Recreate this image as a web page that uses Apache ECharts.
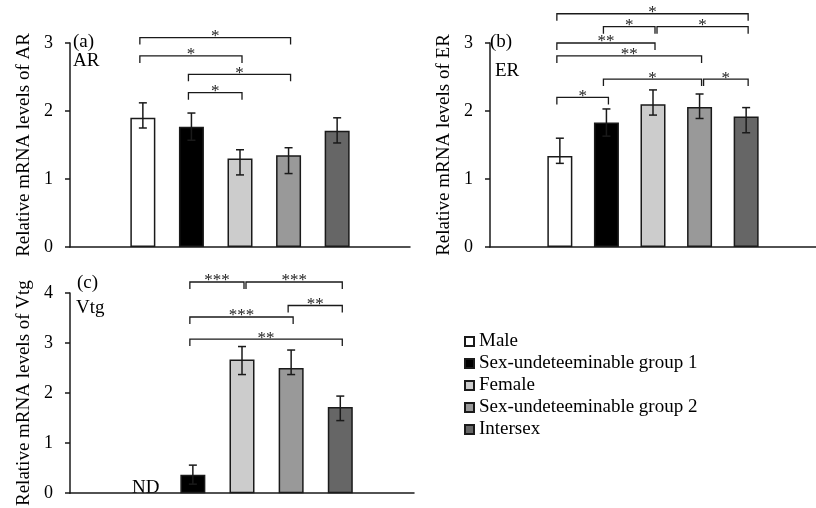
<!DOCTYPE html>
<html>
<head>
<meta charset="utf-8">
<style>html,body{margin:0;padding:0;background:#fff}#chart{width:816px;height:508px}</style>
<script src="https://cdn.jsdelivr.net/npm/echarts@6/dist/echarts.min.js"></script>
</head>
<body>
<div id="chart"></div>
<script>
// ---------- data ----------
var groups = ['Male', 'Sex-undeteeminable group 1', 'Female', 'Sex-undeteeminable group 2', 'Intersex'];
var categories = [' ', 'Male', 'Sex-undeteeminable group 1', 'Female', 'Sex-undeteeminable group 2', 'Intersex', '  '];
var colors = ['#ffffff', '#000000', '#cccccc', '#999999', '#666666'];

var arMean = [1.90, 1.77, 1.30, 1.35, 1.71];
var arHigh = [2.12, 1.97, 1.43, 1.46, 1.90];
var arLow  = [1.75, 1.57, 1.06, 1.08, 1.53];

var erMean = [1.34, 1.83, 2.10, 2.06, 1.92];
var erHigh = [1.60, 2.03, 2.31, 2.25, 2.05];
var erLow  = [1.23, 1.63, 1.94, 1.89, 1.68];

var vtgMean = [null, 0.37, 2.67, 2.50, 1.72];
var vtgHigh = [null, 0.56, 2.93, 2.86, 1.94];
var vtgLow  = [null, 0.18, 2.37, 2.37, 1.45];

// brackets: [fromGroup, toGroup, yValue, label]
var arBrackets = [[0, 3, 3.08, '*'], [0, 2, 2.81, '*'], [1, 3, 2.54, '*'], [1, 2, 2.27, '*']];
var erBrackets = [[0, 4, 3.43, '*'], [1, 2, 3.24, '*'], [2, 4, 3.24, '*'], [0, 2, 3.00, '**'],
                  [0, 3, 2.81, '**'], [1, 3, 2.47, '*'], [3, 4, 2.47, '*'], [0, 1, 2.20, '*']];
var vtgBrackets = [[1, 2, 4.22, '***'], [2, 4, 4.22, '***'], [3, 4, 3.75, '**'],
                   [1, 3, 3.52, '***'], [1, 4, 3.08, '**']];

var yTitles = ['Relative mRNA levels of AR', 'Relative mRNA levels of ER', 'Relative mRNA levels of Vtg'];
var yMax = [3, 3, 4];

// ---------- chart ----------
var FONT = 'Liberation Serif';
var chart = echarts.init(document.getElementById('chart'));

var grids = [
  {left: 70, top: 43, width: 340, height: 204},
  {left: 490, top: 43, width: 333, height: 204},
  {left: 70, top: 293, width: 344, height: 204}
];

var xAxes = [], yAxes = [], series = [];
var means = [arMean, erMean, vtgMean], highs = [arHigh, erHigh, vtgHigh], lows = [arLow, erLow, vtgLow];
var brackets = [arBrackets, erBrackets, vtgBrackets];

for (var p = 0; p < 3; p++) {
  xAxes.push({
    type: 'category', gridIndex: p, data: categories, boundaryGap: true,
    axisLine: {lineStyle: {color: '#1a1a1a', width: 1.5}},
    axisTick: {show: false}, axisLabel: {show: false}, splitLine: {show: false}
  });
  yAxes.push({
    type: 'value', gridIndex: p, min: 0, max: yMax[p], interval: 1,
    name: yTitles[p], nameLocation: 'middle', nameGap: 36, nameRotate: 90,
    nameTextStyle: {fontFamily: FONT, fontSize: 19, color: '#000'},
    axisLine: {show: true, lineStyle: {color: '#1a1a1a', width: 1.5}},
    axisTick: {show: true, inside: false, length: 5, lineStyle: {color: '#1a1a1a', width: 1.5}},
    axisLabel: {fontFamily: FONT, fontSize: 18, color: '#000', margin: 17},
    splitLine: {show: false}
  });
  for (var g = 0; g < 5; g++) {
    var d = categories.map(function () { return '-'; });
    if (means[p][g] != null) d[g + 1] = means[p][g];
    series.push({
      type: 'bar', name: groups[g], xAxisIndex: p, yAxisIndex: p,
      data: d, barWidth: 25, barGap: '-100%',
      itemStyle: {color: colors[g], borderColor: '#1a1a1a', borderWidth: 1.5},
      emphasis: {disabled: true}, z: 2
    });
  }
  (function (p) {
    // error bars
    var eb = [];
    for (var g = 0; g < 5; g++) {
      if (means[p][g] != null) eb.push([g + 1, lows[p][g], highs[p][g]]);
    }
    series.push({
      type: 'custom', xAxisIndex: p, yAxisIndex: p, data: eb, z: 5,
      encode: {x: 0, y: [1, 2]},
      renderItem: function (params, api) {
        var x = api.value(0);
        var top = api.coord([x, api.value(2)]);
        var bot = api.coord([x, api.value(1)]);
        var st = {stroke: '#1a1a1a', lineWidth: 1.5};
        return {type: 'group', children: [
          {type: 'line', shape: {x1: top[0], y1: top[1], x2: bot[0], y2: bot[1]}, style: st},
          {type: 'line', shape: {x1: top[0] - 4, y1: top[1], x2: top[0] + 4, y2: top[1]}, style: st},
          {type: 'line', shape: {x1: bot[0] - 4, y1: bot[1], x2: bot[0] + 4, y2: bot[1]}, style: st}
        ]};
      }
    });
    // significance brackets
    var br = brackets[p];
    series.push({
      type: 'custom', xAxisIndex: p, yAxisIndex: p, clip: false, z: 6,
      data: br.map(function (b) { return [b[0] + 1, b[1] + 1, b[2]]; }),
      encode: {x: [0, 1], y: 2},
      renderItem: function (params, api) {
        var b = br[params.dataIndex];
        var a = api.coord([b[0] + 1, b[2]]);
        var c = api.coord([b[1] + 1, b[2]]);
        var shared = br.some(function (o) { return o !== b && o[2] === b[2] && o[1] === b[0]; });
        var x1 = shared ? a[0] + 4 : a[0] - 3, x2 = c[0] + 2, y = a[1];
        var drop = 7;
        return {type: 'group', children: [
          {type: 'polyline', shape: {points: [[x1, y + drop], [x1, y], [x2, y], [x2, y + drop]]},
           style: {stroke: '#1a1a1a', lineWidth: 1.3, fill: null}},
          {type: 'text', x: (x1 + x2) / 2, y: y - 1,
           style: {text: b[3], fontFamily: FONT, fontSize: 17, fill: '#222',
                   textAlign: 'center', textVerticalAlign: 'middle'}}
        ]};
      }
    });
  })(p);
}

var TF = '19px "Liberation Serif"';
var graphic = [
  {type: 'text', left: 73, top: 33, style: {text: '(a)', font: TF, fill: '#000'}},
  {type: 'text', left: 73, top: 52, style: {text: 'AR', font: TF, fill: '#000'}},
  {type: 'text', left: 490, top: 33, style: {text: '(b)', font: TF, fill: '#000'}},
  {type: 'text', left: 495, top: 62, style: {text: 'ER', font: TF, fill: '#000'}},
  {type: 'text', left: 77, top: 274, style: {text: '(c)', font: TF, fill: '#000'}},
  {type: 'text', left: 76, top: 299, style: {text: 'Vtg', font: TF, fill: '#000'}},
  {type: 'text', left: 132, top: 479, style: {text: 'ND', font: TF, fill: '#000'}}
];

chart.setOption({
  animation: false,
  backgroundColor: '#fff',
  grid: grids,
  xAxis: xAxes,
  yAxis: yAxes,
  legend: {
    data: groups, orient: 'vertical', left: 459, top: 327,
    icon: 'rect', itemWidth: 9, itemHeight: 9, itemGap: 3,
    selectedMode: false,
    textStyle: {fontFamily: FONT, fontSize: 19, color: '#000', lineHeight: 19}
  },
  graphic: graphic,
  series: series
});
</script>
</body>
</html>
